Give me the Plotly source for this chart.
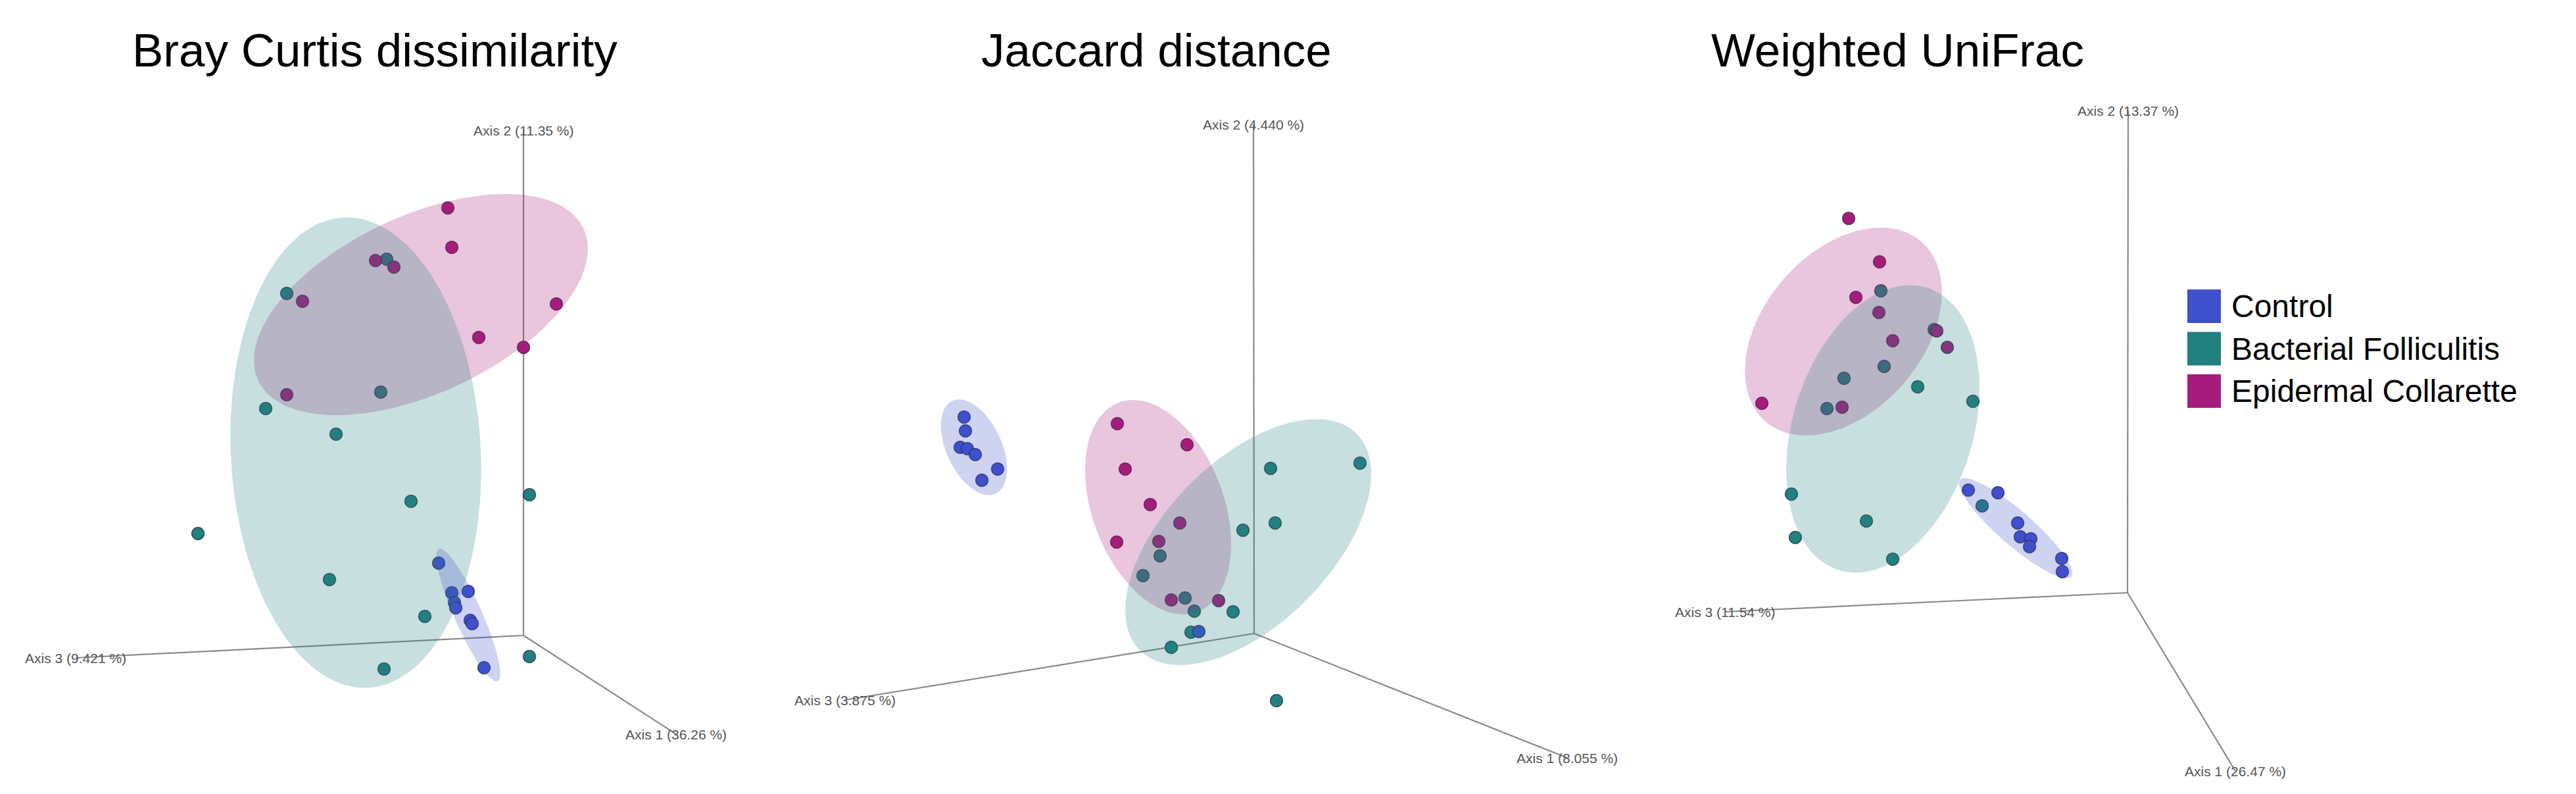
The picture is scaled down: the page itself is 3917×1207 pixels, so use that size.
import numpy as np
import plotly.graph_objects as go

W, H = 3917, 1207
FONT = "Liberation Sans, Arial, sans-serif"

GROUPS = ["Control", "Bacterial Folliculitis", "Epidermal Collarette"]
GROUP_COLORS = ["#3e50cc", "#228080", "#a61c7c"]
FILL_ALPHA = 0.25

TITLES = ["Bray Curtis dissimilarity", "Jaccard distance", "Weighted UniFrac"]

# axis labels (Axis 1, Axis 2, Axis 3) per panel
BRAY_AXES = ["Axis 1 (36.26 %)", "Axis 2 (11.35 %)", "Axis 3 (9.421 %)"]
JACCARD_AXES = ["Axis 1 (8.055 %)", "Axis 2 (4.440 %)", "Axis 3 (3.875 %)"]
UNIFRAC_AXES = ["Axis 1 (26.47 %)", "Axis 2 (13.37 %)", "Axis 3 (11.54 %)"]

# projected end points of the three PCoA axes (screen units, y up, origin = axes origin)
BRAY_AXIS_ENDS = [(232, -150), (0, 768), (-681, -34)]
JACCARD_AXIS_ENDS = [(476, -189), (-1, 774), (-622, -101)]
UNIFRAC_AXIS_ENDS = [(164, -271), (1, 733), (-612, -29)]

# projected sample coordinates
BRAY_CONTROL = [(-129, 110), (-109, 65), (-84, 67), (-105, 50), (-103, 42), (-81, 23), (-78, 18), (-60, -49)]
BRAY_FOLLICULITIS = [(-208, 572), (-360, 520), (-217, 370), (-392, 345), (-285, 306), (-171, 204),
                     (9, 214), (-495, 155), (-295, 85), (-150, 29), (-212, -51), (9, -32)]
BRAY_COLLARETTE = [(-115, 650), (-109, 590), (-225, 570), (-197, 560), (-336, 508), (50, 504),
                   (-68, 453), (0, 438), (-360, 366)]

JACCARD_CONTROL = [(-441, 329), (-439, 308), (-447, 283), (-436, 281), (-424, 272), (-390, 250), (-414, 233), (-84, 3)]
JACCARD_FOLLICULITIS = [(25, 251), (161, 259), (32, 168), (-17, 157), (-143, 118), (-169, 88),
                        (-105, 54), (-91, 34), (-32, 33), (-96, 2), (-126, -21), (34, -102)]
JACCARD_COLLARETTE = [(-208, 319), (-102, 287), (-196, 250), (-158, 196), (-113, 168), (-145, 140),
                      (-209, 139), (-126, 51), (-54, 50)]

UNIFRAC_CONTROL = [(-242, 156), (-197, 152), (-167, 106), (-163, 85), (-147, 82), (-149, 70), (-100, 52), (-99, 32)]
UNIFRAC_FOLLICULITIS = [(-375, 459), (-294, 400), (-370, 344), (-431, 326), (-319, 313), (-235, 291),
                        (-457, 280), (-511, 150), (-397, 109), (-505, 84), (-357, 51), (-221, 132)]
UNIFRAC_COLLARETTE = [(-424, 569), (-377, 503), (-413, 449), (-378, 426), (-357, 383), (-290, 398),
                      (-274, 373), (-556, 288), (-434, 282)]

# confidence ellipses: (center x, center y, semi-major, semi-minor, angle deg)
BRAY_ELLIPSES = [(-84, 31, 110, 21, 114), (-255, 278, 358, 190, 93), (-156, 503, 273, 135, 25)]
JACCARD_ELLIPSES = [(-426, 283, 78, 42, 115), (-9, 139, 233, 125, 45), (-146, 192, 170, 100, 110.6)]
UNIFRAC_ELLIPSES = [(-170, 98, 112, 26, 139), (-372, 249, 225, 137, 72.6), (-432, 397, 181, 121, 49)]

PANELS = [
    dict(title=TITLES[0], axes=BRAY_AXES, ends=BRAY_AXIS_ENDS,
         groups=[BRAY_CONTROL, BRAY_FOLLICULITIS, BRAY_COLLARETTE], ellipses=BRAY_ELLIPSES),
    dict(title=TITLES[1], axes=JACCARD_AXES, ends=JACCARD_AXIS_ENDS,
         groups=[JACCARD_CONTROL, JACCARD_FOLLICULITIS, JACCARD_COLLARETTE], ellipses=JACCARD_ELLIPSES),
    dict(title=TITLES[2], axes=UNIFRAC_AXES, ends=UNIFRAC_AXIS_ENDS,
         groups=[UNIFRAC_CONTROL, UNIFRAC_FOLLICULITIS, UNIFRAC_COLLARETTE], ellipses=UNIFRAC_ELLIPSES),
]

# layout: where each panel's axes origin sits on the page (px), title centers
ORIGINS = [(788, 958), (1899, 955), (3227, 893)]
TITLE_X = [562, 1750, 2877]
TITLE_Y = 68


def rgba(hex_color, alpha):
    h = hex_color.lstrip("#")
    r, g, b = int(h[0:2], 16), int(h[2:4], 16), int(h[4:6], 16)
    return f"rgba({r},{g},{b},{alpha})"


def ellipse_path(cx, cy, a, b, angle, n=160):
    t = np.linspace(0, 2 * np.pi, n)
    th = np.radians(angle)
    x = cx + a * np.cos(t) * np.cos(th) - b * np.sin(t) * np.sin(th)
    y = cy + a * np.cos(t) * np.sin(th) + b * np.sin(t) * np.cos(th)
    return x, y


fig = go.Figure()
annotations = []

for i, panel in enumerate(PANELS):
    sfx = "" if i == 0 else str(i + 1)
    xa, ya = "x" + sfx, "y" + sfx

    # axis lines
    lx, ly = [], []
    for ex, ey in panel["ends"]:
        lx += [0, ex, None]
        ly += [0, ey, None]
    fig.add_trace(go.Scatter(x=lx, y=ly, mode="lines", xaxis=xa, yaxis=ya,
                             line=dict(color="#8a8a8a", width=2.2)))

    # samples
    for g in [1, 2, 0]:
        pts = np.array(panel["groups"][g])
        fig.add_trace(go.Scatter(
            x=pts[:, 0], y=pts[:, 1], mode="markers", xaxis=xa, yaxis=ya,
            name=GROUPS[g],
            marker=dict(size=19, color=GROUP_COLORS[g],
                        line=dict(color="rgba(25,25,45,0.65)", width=1.6))))

    # ellipses on top (translucent, like the 3D ellipsoids)
    for g in [2, 1, 0]:
        ex, ey = ellipse_path(*panel["ellipses"][g])
        fig.add_trace(go.Scatter(
            x=ex, y=ey, mode="lines", fill="toself", xaxis=xa, yaxis=ya,
            line=dict(width=0, color=rgba(GROUP_COLORS[g], 0)),
            fillcolor=rgba(GROUP_COLORS[g], FILL_ALPHA)))

    # axis labels at the axis ends
    for label, (ex, ey) in zip(panel["axes"], panel["ends"]):
        annotations.append(dict(x=ex, y=ey, xref=xa, yref=ya, text=label, showarrow=False,
                                xanchor="center", yanchor="middle",
                                font=dict(family=FONT, size=21, color="#555555")))

    annotations.append(dict(x=TITLE_X[i] / W, y=1 - TITLE_Y / H, xref="paper", yref="paper",
                            text=panel["title"], showarrow=False, xanchor="center", yanchor="middle",
                            font=dict(family=FONT, size=71, color="black")))

    ox, oy = ORIGINS[i]
    fig.update_layout(**{
        ("xaxis" if i == 0 else f"xaxis{i + 1}"): dict(
            range=[-ox, W - ox], domain=[0, 1], visible=False, fixedrange=True,
            **({} if i == 0 else dict(overlaying="x"))),
        ("yaxis" if i == 0 else f"yaxis{i + 1}"): dict(
            range=[-(H - oy), oy], domain=[0, 1], visible=False, fixedrange=True,
            **({} if i == 0 else dict(overlaying="y"))),
    })

# legend (drawn by hand: big squares)
shapes = []
LEG_X0, LEG_SQ, LEG_TOP, LEG_STEP = 3318, 51, 432, 64.5
for g, name in enumerate(GROUPS):
    y0 = LEG_TOP + g * LEG_STEP
    shapes.append(dict(type="rect", xref="paper", yref="paper",
                       x0=LEG_X0 / W, x1=(LEG_X0 + LEG_SQ) / W,
                       y0=1 - (y0 + LEG_SQ) / H, y1=1 - y0 / H,
                       fillcolor=GROUP_COLORS[g], line=dict(width=0)))
    annotations.append(dict(x=(LEG_X0 + LEG_SQ + 14) / W, y=1 - (y0 + LEG_SQ / 2) / H,
                            xref="paper", yref="paper", text=name, showarrow=False,
                            xanchor="left", yanchor="middle",
                            font=dict(family=FONT, size=48, color="black")))

fig.update_layout(
    width=W, height=H,
    margin=dict(l=0, r=0, t=0, b=0),
    paper_bgcolor="white", plot_bgcolor="white",
    showlegend=False, hovermode=False,
    annotations=annotations, shapes=shapes,
)

fig.write_html("out.html")
